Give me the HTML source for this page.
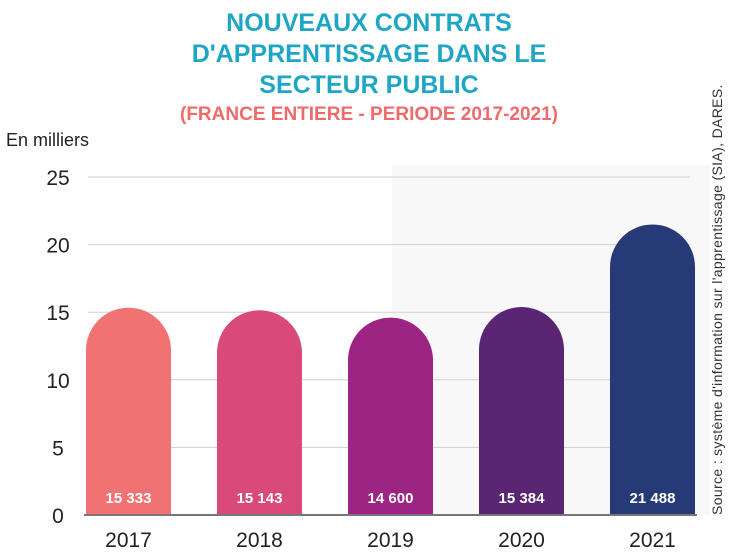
<!DOCTYPE html>
<html><head><meta charset="utf-8"><style>
body{margin:0;background:#fff;}
svg{display:block;font-family:"Liberation Sans",sans-serif;}
</style></head><body>
<svg id="c" width="739" height="554">
<rect x="392" y="165" width="318" height="350" fill="#f8f8f8"/>
<g font-weight="bold" text-anchor="middle" font-size="25" fill="#1fa6c4">
<text x="369" y="31">NOUVEAUX CONTRATS</text>
<text x="369" y="62">D'APPRENTISSAGE DANS LE</text>
<text x="369" y="93">SECTEUR PUBLIC</text>
</g>
<text x="369" y="120" text-anchor="middle" font-size="19" font-weight="bold" fill="#ef6a6a">(FRANCE ENTIERE - PERIODE 2017-2021)</text>
<text x="6" y="146" font-size="18" fill="#222">En milliers</text>
<g id="grid"></g><g id="bars"></g>
<text transform="translate(722,515) rotate(-90)" font-size="14" letter-spacing="0.35" fill="#333">Source : système d'information sur l'apprentissage (SIA), DARES.</text>
</svg>
<script>
const years=["2017","2018","2019","2020","2021"];
const values=[15.333,15.143,14.600,15.384,21.488];
const valueLabels=["15 333","15 143","14 600","15 384","21 488"];
const ticks=[0,5,10,15,20,25];
const colors=["#f07272","#d94a7a","#9c2483","#5a2674","#273a78"];
const NS="http://www.w3.org/2000/svg";
const y=v=>515-v*13.52;
const x=i=>86+i*131;
const bw=85;
const g=document.getElementById('grid'),b=document.getElementById('bars');
function mk(t,a,p){const e=document.createElementNS(NS,t);for(const k in a)e.setAttribute(k,a[k]);p.appendChild(e);return e;}
ticks.forEach(t=>{
 if(t>0){const l=mk('line',{x1:88,x2:690,y1:y(t),y2:y(t),stroke:'#cfcfcf','stroke-width':1},g);
 
 }
 const tx=mk('text',{x:58,y:y(t)+8,'text-anchor':'middle','font-size':21,fill:'#222'},g);tx.textContent=t;
 
 
});
values.forEach((v,i)=>{
 const r=bw/2,x0=x(i),top=y(v);
 const p=mk('path',{d:`M${x0},515 L${x0},${top+r} A${r},${r} 0 0 1 ${x0+bw},${top+r} L${x0+bw},515 Z`,fill:colors[i]},b);
 
 
 const vl=mk('text',{x:x0+r,y:503,'text-anchor':'middle','font-size':15,'font-weight':'bold',fill:'#fff'},b);vl.textContent=valueLabels[i];
 
 
 const yl=mk('text',{x:x0+r,y:547,'text-anchor':'middle','font-size':21,fill:'#222'},b);yl.textContent=years[i];
 
 
});
const base=mk('line',{x1:84,x2:697,y1:515,y2:515,stroke:'#777','stroke-width':2},b);


</script>
</body></html>
